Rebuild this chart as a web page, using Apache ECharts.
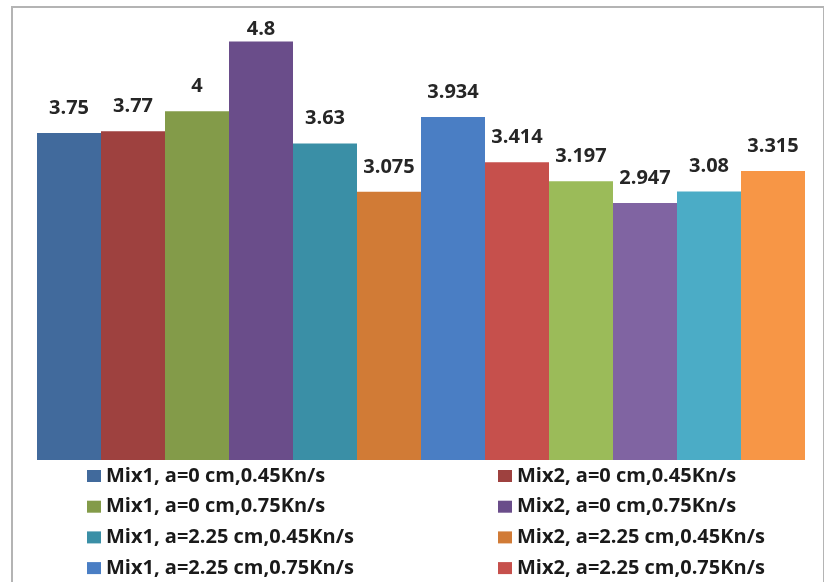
<!DOCTYPE html>
<html>
<head>
<meta charset="utf-8">
<script src="https://cdn.jsdelivr.net/npm/echarts@6/dist/echarts.min.js"></script>
<style>
  html, body { margin: 0; padding: 0; background: #ffffff; }
  #chart { width: 824px; height: 582px; }
</style>
</head>
<body>
<div id="chart"></div>
<script>
// Series names, in bar / legend order
const seriesNames = [
  'Mix1, a=0 cm,0.45Kn/s',
  'Mix2, a=0 cm,0.45Kn/s',
  'Mix1, a=0 cm,0.75Kn/s',
  'Mix2, a=0 cm,0.75Kn/s',
  'Mix1, a=2.25 cm,0.45Kn/s',
  'Mix2, a=2.25 cm,0.45Kn/s',
  'Mix1, a=2.25 cm,0.75Kn/s',
  'Mix2, a=2.25 cm,0.75Kn/s',
  'Mix1, a=4.5 cm,0.45Kn/s',
  'Mix2, a=4.5 cm,0.45Kn/s',
  'Mix1, a=4.5 cm,0.75Kn/s',
  'Mix2, a=4.5 cm,0.75Kn/s'
];

// One value per series
const seriesValues = [3.75, 3.77, 4, 4.8, 3.63, 3.075, 3.934, 3.414, 3.197, 2.947, 3.08, 3.315];

const barColors = [
  '#416a9c', '#9e413f', '#839b49', '#6a4d8a', '#3a8fa6', '#d17b36',
  '#4a7ec4', '#c6504c', '#9bbb59', '#8064a2', '#4bacc6', '#f79646'
];

const categories = [''];

// Legend columns (entries shown)
const legendLeft = [seriesNames[0], seriesNames[2], seriesNames[4], seriesNames[6]];
const legendRight = [seriesNames[1], seriesNames[3], seriesNames[5], seriesNames[7]];

const FONT = 'Open Sans';

const chart = echarts.init(document.getElementById('chart'), null, { renderer: 'canvas' });

const series = seriesNames.map((name, i) => ({
  name: name,
  type: 'bar',
  barGap: '0%',
  barCategoryGap: '0%',
  data: [seriesValues[i]],
  itemStyle: { color: barColors[i] },
  label: {
    show: true,
    position: 'top',
    distance: seriesValues[i] === 4.8 ? 2 : 15,
    fontFamily: FONT,
    fontWeight: 'bold',
    fontSize: 20,
    color: '#262626',
    formatter: (p) => String(p.value)
  },
  emphasis: { disabled: true }
}));

const legendCommon = {
  orient: 'vertical',
  top: 461,
  height: 160,
  itemWidth: 14,
  itemHeight: 12,
  itemGap: 10.7,
  icon: 'rect',
  selectedMode: false,
  textStyle: {
    fontFamily: FONT,
    fontWeight: 'bold',
    fontSize: 20,
    lineHeight: 20,
    color: '#1a1a1a'
  }
};

chart.setOption({
  backgroundColor: '#ffffff',
  animation: false,
  grid: { left: 37, right: 19, top: 24, bottom: 122 },
  xAxis: {
    type: 'category',
    data: categories,
    show: false
  },
  yAxis: {
    type: 'value',
    min: 0,
    max: 5,
    show: false
  },
  legend: [
    Object.assign({}, legendCommon, { left: 82, data: legendLeft }),
    Object.assign({}, legendCommon, { left: 493, data: legendRight })
  ],
  graphic: [{
    type: 'rect',
    shape: { x: 12, y: 7, width: 812, height: 600 },
    style: { fill: 'none', stroke: '#b4b4b4', lineWidth: 2 },
    silent: true,
    z: 100
  }],
  series: series
});
</script>
</body>
</html>
